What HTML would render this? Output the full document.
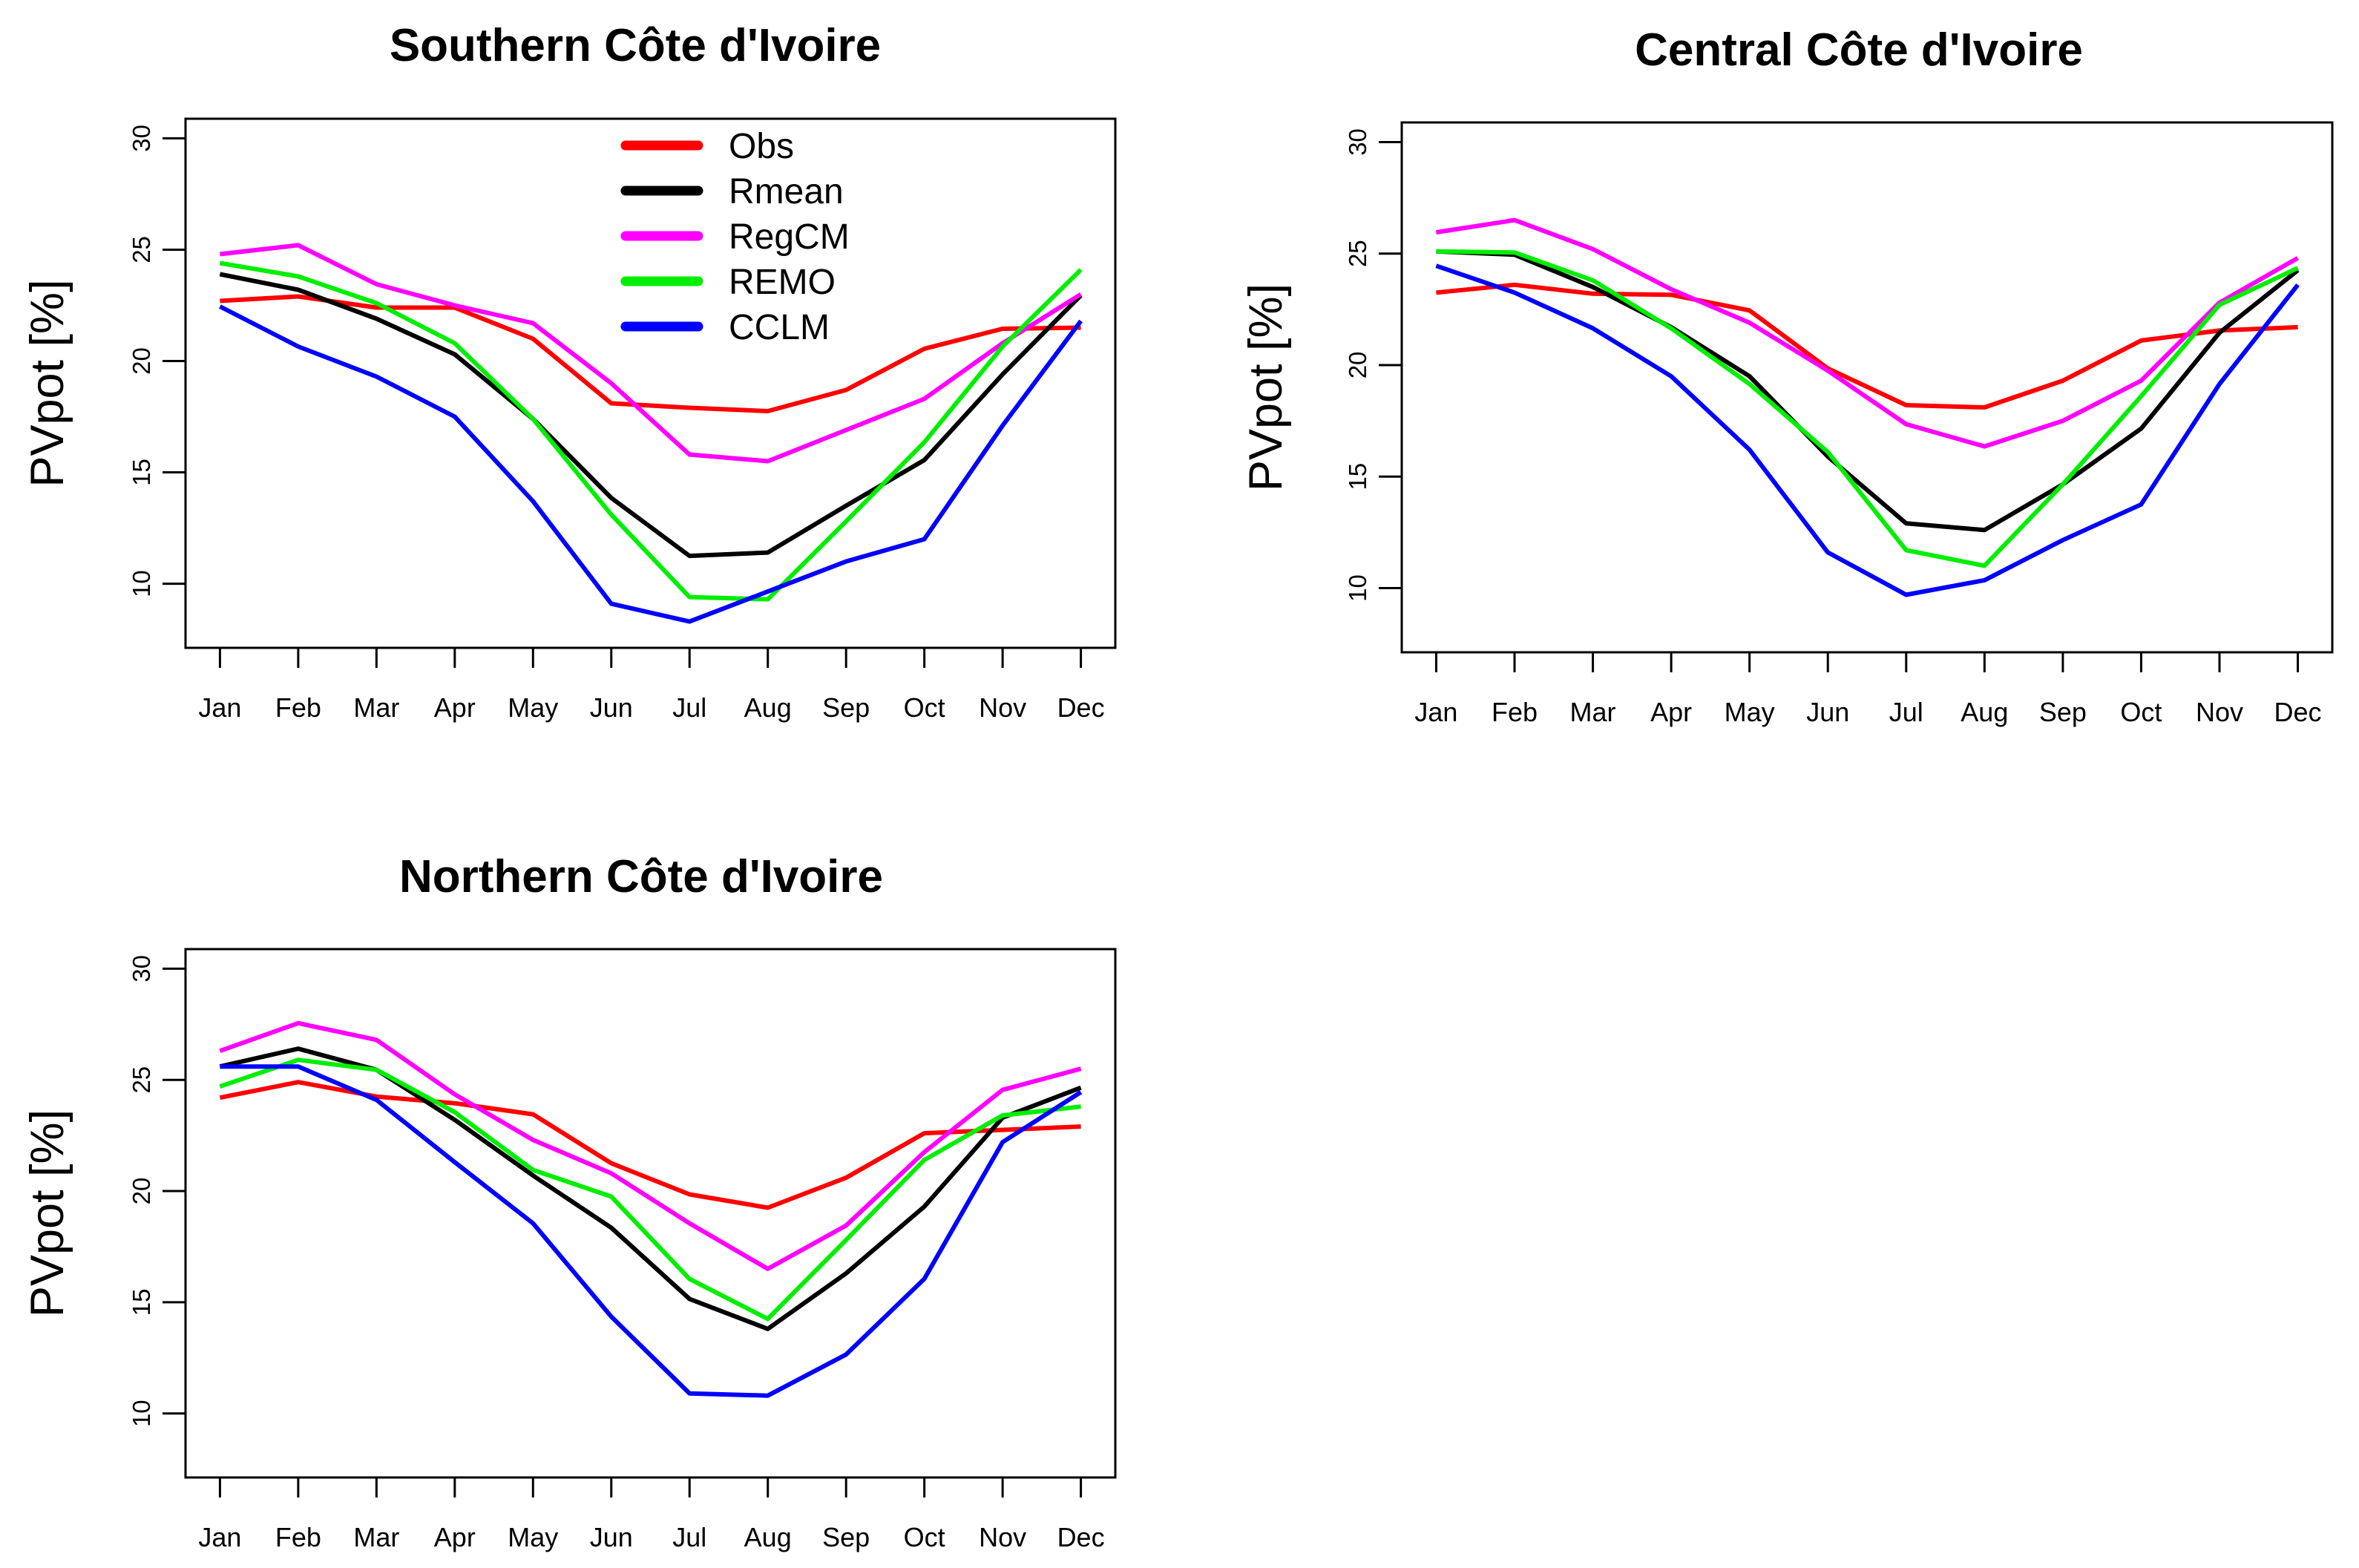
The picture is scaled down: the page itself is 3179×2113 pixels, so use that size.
<!DOCTYPE html>
<html><head><meta charset="utf-8">
<style>
html,body{margin:0;padding:0;background:#fff;}
svg{display:block;}
text{font-family:"Liberation Sans",Arial,sans-serif;}
</style></head>
<body>
<svg id="chart" width="3179" height="2113" viewBox="0 0 3179 2113" xmlns="http://www.w3.org/2000/svg"></svg>
<script>
const months = ["Jan","Feb","Mar","Apr","May","Jun","Jul","Aug","Sep","Oct","Nov","Dec"];
const yTicks = [10,15,20,25,30];
const seriesNames = ["Obs","Rmean","RegCM","REMO","CCLM"];
const seriesColors = ["#ff0000","#000000","#ff00ff","#00ee00","#0000ff"];
const titles = ["Southern Côte d'Ivoire","Central Côte d'Ivoire","Northern Côte d'Ivoire"];

const southObs   = [22.7,22.9,22.4,22.4,21.0,18.1,17.9,17.75,18.7,20.55,21.45,21.5];
const southRmean = [23.9,23.2,21.9,20.3,17.4,13.85,11.25,11.4,13.5,15.55,19.4,22.95];
const southRegCM = [24.8,25.2,23.45,22.5,21.7,19.0,15.8,15.5,16.9,18.3,20.8,23.0];
const southREMO  = [24.4,23.8,22.6,20.8,17.4,13.1,9.4,9.3,12.8,16.35,20.65,24.1];
const southCCLM  = [22.45,20.65,19.3,17.5,13.7,9.1,8.3,9.65,11.0,12.0,17.1,21.8];

const centralObs   = [23.25,23.6,23.2,23.15,22.45,19.85,18.2,18.1,19.3,21.1,21.55,21.7];
const centralRmean = [25.1,24.95,23.5,21.7,19.5,15.9,12.9,12.6,14.65,17.15,21.45,24.25];
const centralRegCM = [25.95,26.5,25.2,23.4,21.9,19.75,17.35,16.35,17.5,19.3,22.8,24.8];
const centralREMO  = [25.1,25.05,23.8,21.65,19.15,16.1,11.7,11.0,14.65,18.6,22.7,24.35];
const centralCCLM  = [24.45,23.25,21.65,19.5,16.2,11.6,9.7,10.35,12.15,13.75,19.15,23.6];

const northObs   = [24.2,24.9,24.25,23.95,23.45,21.25,19.85,19.25,20.6,22.6,22.75,22.9];
const northRmean = [25.6,26.4,25.45,23.2,20.7,18.35,15.15,13.8,16.3,19.3,23.3,24.65];
const northRegCM = [26.3,27.55,26.8,24.35,22.3,20.8,18.55,16.5,18.45,21.75,24.55,25.5];
const northREMO  = [24.7,25.9,25.45,23.55,20.95,19.75,16.05,14.25,17.8,21.4,23.4,23.8];
const northCCLM  = [25.6,25.6,24.1,21.3,18.55,14.35,10.9,10.8,12.65,16.05,22.2,24.45];

const panelData = [
  [southObs,southRmean,southRegCM,southREMO,southCCLM],
  [centralObs,centralRmean,centralRegCM,centralREMO,centralCCLM],
  [northObs,northRmean,northRegCM,northREMO,northCCLM]
];
const panelNames = ["southern","central","northern"];

const NS = "http://www.w3.org/2000/svg";
const svg = document.getElementById("chart");
function mk(tag, attrs, parent){
  const e = document.createElementNS(NS, tag);
  for (const k in attrs) e.setAttribute(k, attrs[k]);
  (parent||svg).appendChild(e);
  return e;
}
const boxes = [
  {l:250,r:1503,t:160,b:873, tx:856, ty:82, yl:63},
  {l:1889,r:3143,t:165,b:879, tx:2505, ty:88, yl:1705},
  {l:250,r:1503,t:1279,b:1991, tx:864, ty:1202, yl:63}
];
const yMin = 8, yMax = 30, xMin = 1, xMax = 12;

boxes.forEach((B, pi) => {
  const g = mk("g", {});
  
  
  const yr = (yMax - yMin) * 0.04, xr = (xMax - xMin) * 0.04;
  const y0 = yMin - yr, y1 = yMax + yr, x0 = xMin - xr, x1 = xMax + xr;
  const X = i => B.l + ((i + 1) - x0) / (x1 - x0) * (B.r - B.l);
  const Y = v => B.b - (v - y0) / (y1 - y0) * (B.b - B.t);

  const title = mk("text", {x:B.tx, y:B.ty, "text-anchor":"middle", "font-size":62, "font-weight":"bold", fill:"#000"}, g);
  title.textContent = titles[pi];
  
  

  const ylab = mk("text", {x:0, y:0, transform:`translate(${B.yl+22},${(B.t+B.b)/2}) rotate(-90)`, "text-anchor":"middle", "font-size":63, fill:"#000"}, g);
  ylab.textContent = "PVpot [%]";
  
  

  const frame = mk("rect", {x:B.l, y:B.t, width:B.r-B.l, height:B.b-B.t, fill:"none", stroke:"#000", "stroke-width":3}, g);
  
  

  const ya = mk("g", {}, g);
  
  
  yTicks.forEach(v => {
    mk("line", {x1:B.l-31, x2:B.l, y1:Y(v), y2:Y(v), stroke:"#000", "stroke-width":3}, ya);
    const t = mk("text", {x:0, y:0, transform:`translate(${B.l-48},${Y(v)}) rotate(-90)`, "text-anchor":"middle", "font-size":33, fill:"#000"}, ya);
    t.textContent = v;
    
    
  });

  const xa = mk("g", {}, g);
  
  
  months.forEach((m, i) => {
    mk("line", {x1:X(i), x2:X(i), y1:B.b, y2:B.b+27, stroke:"#000", "stroke-width":3}, xa);
    const t = mk("text", {x:X(i), y:B.b+93, "text-anchor":"middle", "font-size":36, fill:"#000"}, xa);
    t.textContent = m;
    
    
  });

  panelData[pi].forEach((arr, si) => {
    const pts = arr.map((v, i) => X(i).toFixed(1) + "," + Y(v).toFixed(1)).join(" ");
    const pl = mk("polyline", {points:pts, fill:"none", stroke:seriesColors[si], "stroke-width":6, "stroke-linejoin":"round"}, g);
    
    
  });

  if (pi === 0) {
    const lg = mk("g", {}, g);
    
    
    seriesNames.forEach((n, si) => {
      const yy = 196 + si * 61;
      const e = mk("g", {}, lg);
      
      
      mk("line", {x1:843, x2:941, y1:yy, y2:yy, stroke:seriesColors[si], "stroke-width":13, "stroke-linecap":"round"}, e);
      const t = mk("text", {x:982, y:yy+17, "font-size":48, fill:"#000"}, e);
      t.textContent = n;
    });
  }
});
</script>
</body></html>
